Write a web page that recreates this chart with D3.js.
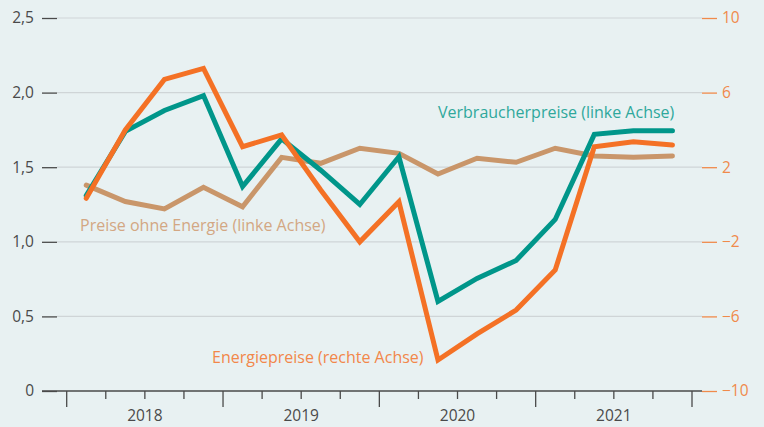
<!DOCTYPE html>
<html>
<head>
<meta charset="utf-8">
<script src="https://cdn.jsdelivr.net/npm/d3@7"></script>
<style>
  html, body { margin: 0; padding: 0; background: #e8f1f2; }
  svg { display: block; }
  text { font-family: "Open Sans", "Noto Sans", sans-serif; }
</style>
</head>
<body>
<svg id="chart" width="764" height="427"></svg>
<script>
// ---- data ----
const quarters = ["2018Q1","2018Q2","2018Q3","2018Q4","2019Q1","2019Q2","2019Q3","2019Q4",
                  "2020Q1","2020Q2","2020Q3","2020Q4","2021Q1","2021Q2","2021Q3","2021Q4"];
const years = ["2018","2019","2020","2021"];
const verbraucherpreise = [1.31,1.74,1.88,1.98,1.37,1.69,1.48,1.25,1.57,0.60,0.755,0.875,1.15,1.72,1.745,1.745];
const energiepreise = [0.33,4.0,6.71,7.30,3.10,3.73,0.78,-2.0,0.15,-8.34,-6.94,-5.66,-3.51,3.10,3.37,3.19];
const preiseOhneEnergie = [1.38,1.27,1.22,1.365,1.235,1.566,1.526,1.627,1.593,1.454,1.56,1.533,1.627,1.575,1.566,1.575];
const leftTicks = [0,0.5,1.0,1.5,2.0,2.5];
const rightTicks = [-10,-6,-2,2,6,10];
const labels = {
  vp: "Verbraucherpreise (linke Achse)",
  ep: "Energiepreise (rechte Achse)",
  po: "Preise ohne Energie (linke Achse)"
};

// ---- layout ----
const svg = d3.select("#chart");
const x0 = 66.7, x1 = 692, yTop = 18, yBot = 391;
const colors = { vp: "#00968a", ep: "#f47125", po: "#c9966a" };
const textColors = { vp: "#2fa89c", ep: "#f2874a", po: "#d3a783" };

const x = d3.scaleBand().domain(quarters).range([x0, x1]).padding(0);
const xc = q => x(q) + x.bandwidth() / 2;
const yL = d3.scaleLinear().domain([0, 2.5]).range([yBot, yTop]);
const yR = d3.scaleLinear().domain([-10, 10]).range([yBot, yTop]);

svg.append("rect").attr("width", 764).attr("height", 427).attr("fill", "#e8f1f2");

// gridlines
svg.append("g").selectAll("line").data(leftTicks.filter(d => d !== 0)).join("line")
  .attr("x1", 57).attr("x2", 702)
  .attr("y1", d => yL(d)).attr("y2", d => yL(d))
  .attr("stroke", "#cfd5d7").attr("stroke-width", 1.2);

// left axis
const gL = svg.append("g").attr("transform", "translate(57,0)")
  .call(d3.axisLeft(yL).tickValues(leftTicks).tickSize(15).tickPadding(8)
    .tickFormat(d => d === 0 ? "0" : d3.format(".1f")(d).replace(".", ",")));
gL.select(".domain").remove();
gL.selectAll(".tick line").attr("stroke", "#4a4a4a").attr("stroke-width", 1.3);
gL.selectAll(".tick text").attr("fill", "#4a4a4a").style("font-size", "15.5px")
  .attr("font-family", "'Open Sans', sans-serif");

// right axis
const gR = svg.append("g").attr("transform", "translate(702,0)")
  .call(d3.axisRight(yR).tickValues(rightTicks).tickSize(15).tickPadding(5)
    .tickFormat(d => d < 0 ? "\u2212" + Math.abs(d) : String(d)));
gR.select(".domain").remove();
gR.selectAll(".tick line").attr("stroke", "#f08a4b").attr("stroke-width", 1.3);
gR.selectAll(".tick text").attr("fill", "#f08a4b").style("font-size", "15.5px")
  .attr("font-family", "'Open Sans', sans-serif");

// x axis baseline
svg.append("line").attr("x1", 42).attr("x2", 702).attr("y1", yBot).attr("y2", yBot)
  .attr("stroke", "#4a4a4a").attr("stroke-width", 1.3);

// quarter ticks
const tickPos = quarters.map(q => ({ pos: x(q), major: q.endsWith("Q1") }));
tickPos.push({ pos: x(quarters[quarters.length - 1]) + x.bandwidth(), major: true });
svg.append("g").selectAll("line").data(tickPos).join("line")
  .attr("x1", d => d.pos).attr("x2", d => d.pos)
  .attr("y1", yBot).attr("y2", d => yBot + (d.major ? 16 : 8))
  .attr("stroke", "#4a4a4a").attr("stroke-width", 1.3);

// year labels
svg.append("g").selectAll("text").data(years).join("text")
  .attr("x", yr => (x(yr + "Q2") + x(yr + "Q3") + x.bandwidth()) / 2)
  .attr("y", 421).attr("text-anchor", "middle")
  .attr("fill", "#4a4a4a").style("font-size", "15.5px").text(d => d);

// lines
const lineL = d3.line().x((d, i) => xc(quarters[i])).y(d => yL(d));
const lineR = d3.line().x((d, i) => xc(quarters[i])).y(d => yR(d));

function drawLine(data, gen, color) {
  svg.append("path").datum(data).attr("d", gen)
    .attr("fill", "none").attr("stroke", color).attr("stroke-width", 5)
    .attr("stroke-linecap", "round").attr("stroke-linejoin", "miter");
}
drawLine(preiseOhneEnergie, lineL, colors.po);
drawLine(verbraucherpreise, lineL, colors.vp);
drawLine(energiepreise, lineR, colors.ep);

// series labels
svg.append("text").attr("x", 438).attr("y", 118).attr("fill", textColors.vp)
  .style("font-size", "16px").text(labels.vp);
svg.append("text").attr("x", 80).attr("y", 231).attr("fill", textColors.po)
  .style("font-size", "16px").text(labels.po);
svg.append("text").attr("x", 212).attr("y", 363).attr("fill", textColors.ep)
  .style("font-size", "16px").text(labels.ep);
</script>
</body>
</html>
